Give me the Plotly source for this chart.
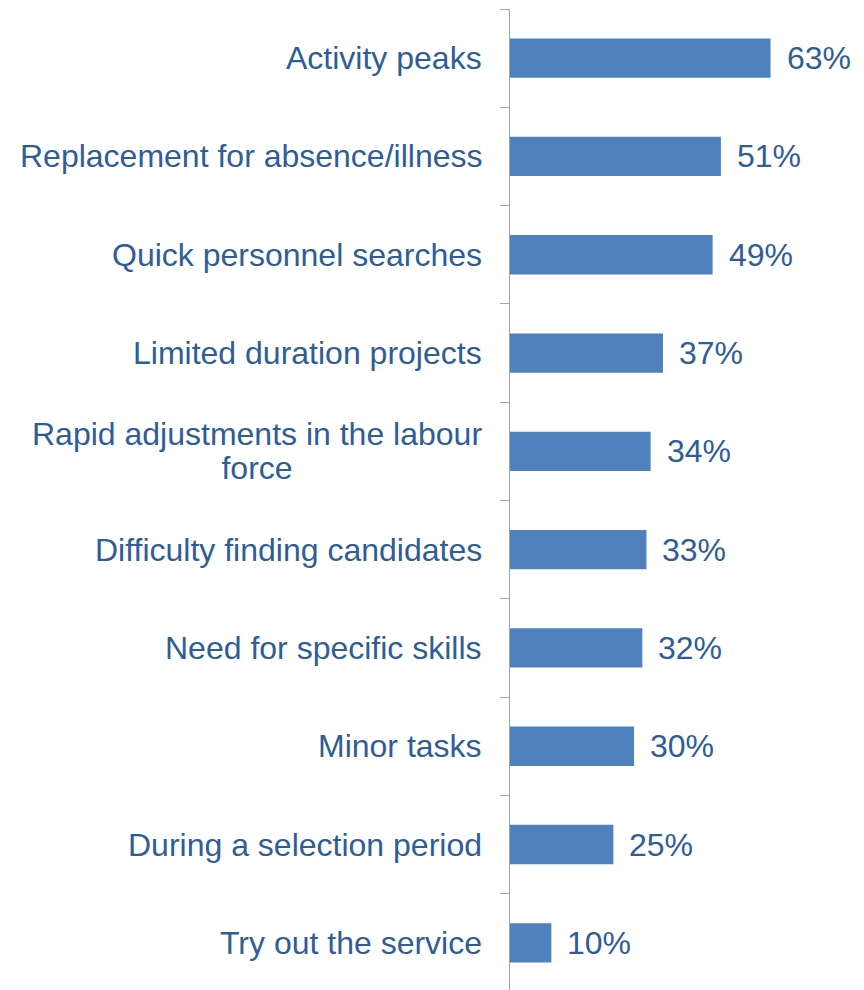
import plotly.graph_objects as go

# Reasons for using the service (share of respondents, %)
categories = [
    "Activity peaks",
    "Replacement for absence/illness",
    "Quick personnel searches",
    "Limited duration projects",
    "Rapid adjustments in the labour<br>force",
    "Difficulty finding candidates",
    "Need for specific skills",
    "Minor tasks",
    "During a selection period",
    "Try out the service",
]
values = [63, 51, 49, 37, 34, 33, 32, 30, 25, 10]
value_labels = [f"{v}%" for v in values]

BAR_COLOR = "#4F81BD"
TEXT_COLOR = "#2F5D95"
AXIS_COLOR = "#95A8CA"
FONT = "Arial, Liberation Sans, sans-serif"
SIZE = 32

fig = go.Figure(
    go.Bar(
        x=values,
        y=categories,
        orientation="h",
        marker=dict(color=BAR_COLOR, line=dict(width=0)),
        hoverinfo="skip",
    )
)

annotations = []
for cat, v, lab in zip(categories, values, value_labels):
    # category label to the left of the axis
    if "<br>" in cat:
        # tighter line spacing for wrapped labels
        text = f'<span style="font-size:{SIZE}px">{cat}</span>'
        fsize = 26.2
    else:
        text = cat
        fsize = SIZE
    annotations.append(dict(
        x=0, xref="paper", y=cat, yref="y",
        xanchor="right", yanchor="middle", xshift=-26,
        text=text, align="center", showarrow=False,
        font=dict(family=FONT, size=fsize, color=TEXT_COLOR),
    ))
    # value label at the end of each bar
    annotations.append(dict(
        x=v, xref="x", y=cat, yref="y",
        xanchor="left", yanchor="middle", xshift=14,
        text=lab, showarrow=False,
        font=dict(family=FONT, size=SIZE, color=TEXT_COLOR),
    ))

fig.update_layout(
    width=864,
    height=990,
    margin=dict(l=510, r=0, t=9, b=0),
    paper_bgcolor="white",
    plot_bgcolor="white",
    bargap=0.6,
    showlegend=False,
    annotations=annotations,
    xaxis=dict(visible=False, range=[0, 85.6], fixedrange=True),
    yaxis=dict(
        type="category",
        categoryorder="array",
        categoryarray=categories,
        range=[9.48, -0.5],
        showline=True,
        linecolor=AXIS_COLOR,
        linewidth=1,
        ticks="outside",
        tickson="boundaries",
        ticklen=9,
        tickcolor=AXIS_COLOR,
        tickwidth=1,
        showticklabels=False,
        showgrid=False,
        zeroline=False,
        fixedrange=True,
    ),
)

fig.write_html("out.html", config={"displayModeBar": False})
